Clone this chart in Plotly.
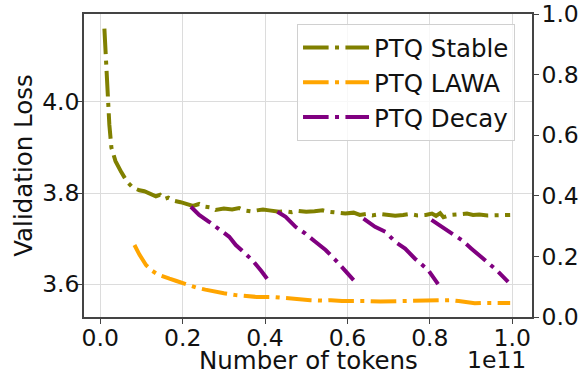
import plotly.graph_objects as go

# ---- data (x in units of 1e11 tokens) ----
stable_x = [0.010, 0.013, 0.017, 0.022, 0.027, 0.037, 0.051, 0.065, 0.079, 0.095,
            0.107, 0.120, 0.135, 0.145, 0.155, 0.165, 0.180, 0.195, 0.210, 0.225,
            0.240, 0.255, 0.270, 0.280, 0.300, 0.320, 0.337, 0.350, 0.365, 0.377,
            0.395, 0.410, 0.434, 0.450, 0.465, 0.480, 0.500, 0.520, 0.540, 0.555,
            0.575, 0.595, 0.615, 0.630, 0.645, 0.660, 0.680, 0.700, 0.716, 0.735,
            0.750, 0.770, 0.790, 0.805, 0.815, 0.825, 0.833, 0.850, 0.870, 0.890,
            0.905, 0.920, 0.940, 0.960, 0.980, 0.995]
stable_y = [4.161, 4.105, 4.000, 3.950, 3.900, 3.870, 3.846, 3.825, 3.812, 3.806,
            3.804, 3.799, 3.793, 3.796, 3.787, 3.790, 3.783, 3.780, 3.777, 3.772,
            3.776, 3.770, 3.768, 3.763, 3.766, 3.764, 3.767, 3.762, 3.760, 3.761,
            3.764, 3.762, 3.759, 3.760, 3.758, 3.761, 3.759, 3.760, 3.762, 3.759,
            3.758, 3.755, 3.757, 3.752, 3.754, 3.751, 3.754, 3.752, 3.750, 3.752,
            3.754, 3.751, 3.752, 3.755, 3.750, 3.756, 3.747, 3.752, 3.753, 3.755,
            3.752, 3.753, 3.751, 3.752, 3.751, 3.752]

lawa_x = [0.083, 0.095, 0.111, 0.125, 0.140, 0.155, 0.168, 0.185, 0.200, 0.216,
          0.235, 0.255, 0.280, 0.300, 0.329, 0.350, 0.380, 0.417, 0.440, 0.460,
          0.482, 0.510, 0.540, 0.560, 0.587, 0.620, 0.650, 0.680, 0.716, 0.740,
          0.770, 0.800, 0.820, 0.850, 0.870, 0.890, 0.909, 0.930, 0.950, 0.970, 0.995]
lawa_y = [3.686, 3.665, 3.642, 3.630, 3.621, 3.615, 3.612, 3.607, 3.602, 3.598,
          3.592, 3.588, 3.583, 3.580, 3.576, 3.574, 3.572, 3.572, 3.570, 3.568,
          3.566, 3.565, 3.564, 3.565, 3.563, 3.564, 3.563, 3.562, 3.563, 3.563,
          3.564, 3.565, 3.566, 3.565, 3.563, 3.560, 3.558, 3.559, 3.560, 3.559, 3.559]

decay1_x = [0.220, 0.240, 0.264, 0.290, 0.313, 0.329, 0.353, 0.369, 0.390, 0.405]
decay1_y = [3.770, 3.752, 3.737, 3.720, 3.704, 3.686, 3.667, 3.653, 3.630, 3.612]
decay2_x = [0.430, 0.450, 0.474, 0.498, 0.522, 0.547, 0.571, 0.579, 0.598, 0.615]
decay2_y = [3.759, 3.748, 3.726, 3.711, 3.693, 3.675, 3.653, 3.645, 3.627, 3.609]
decay3_x = [0.639, 0.667, 0.692, 0.716, 0.740, 0.764, 0.796, 0.820]
decay3_y = [3.744, 3.726, 3.715, 3.693, 3.678, 3.656, 3.631, 3.600]
decay4_x = [0.804, 0.829, 0.853, 0.877, 0.901, 0.933, 0.962, 0.990]
decay4_y = [3.741, 3.726, 3.711, 3.697, 3.678, 3.653, 3.631, 3.605]

x_ticks = [0.0, 0.2, 0.4, 0.6, 0.8, 1.0]
x_tick_labels = ["0.0", "0.2", "0.4", "0.6", "0.8", "1.0"]
y_ticks = [3.6, 3.8, 4.0]
y_tick_labels = ["3.6", "3.8", "4.0"]
y2_ticks = [0.0, 0.2, 0.4, 0.6, 0.8, 1.0]
y2_tick_labels = ["0.0", "0.2", "0.4", "0.6", "0.8", "1.0"]
x_title = "Number of tokens"
y_title = "Validation Loss"
x_offset_label = "1e11"

OLIVE = "#808000"
ORANGE = "#FFA500"
PURPLE = "#800080"
DASH = "25.6px,6.4px,4px,6.4px"
FONT = "DejaVu Sans"
FS = 24.5
TFS = 23.5

fig = go.Figure()
fig.add_trace(go.Scatter(x=stable_x, y=stable_y, mode="lines", name="PTQ Stable",
                         line=dict(color=OLIVE, width=4, dash=DASH)))
fig.add_trace(go.Scatter(x=lawa_x, y=lawa_y, mode="lines", name="PTQ LAWA",
                         line=dict(color=ORANGE, width=4, dash=DASH)))
for i, (dx, dy) in enumerate([(decay1_x, decay1_y), (decay2_x, decay2_y),
                              (decay3_x, decay3_y), (decay4_x, decay4_y)]):
    fig.add_trace(go.Scatter(x=dx, y=dy, mode="lines", name="PTQ Decay",
                             legendgroup="decay", showlegend=(i == 0),
                             line=dict(color=PURPLE, width=4, dash=DASH)))
# invisible trace for right axis
fig.add_trace(go.Scatter(x=[None], y=[None], yaxis="y2", showlegend=False, hoverinfo="skip"))

axis_common = dict(showline=True, linecolor="#444", linewidth=1.5, ticks="outside",
                   ticklen=5, tickwidth=1.3, tickcolor="#444", automargin=False,
                   tickfont=dict(family=FONT, size=TFS, color="#111"), zeroline=False)

fig.update_layout(
    width=581, height=372,
    margin=dict(l=84, r=49, t=14, b=55),
    paper_bgcolor="white", plot_bgcolor="white",
    font=dict(family=FONT, size=FS, color="#111"),
    xaxis=dict(range=[-0.0395, 1.048], tickvals=x_ticks, ticktext=x_tick_labels,
               showgrid=True, gridcolor="#dcdcdc", gridwidth=1, mirror=True,
               ticklabelstandoff=-6, **axis_common),
    yaxis=dict(range=[3.528, 4.193], tickvals=y_ticks, ticktext=y_tick_labels,
               showgrid=True, gridcolor="#dcdcdc", gridwidth=1, ticklabelstandoff=-7,
               title=dict(text=y_title, font=dict(family=FONT, size=FS), standoff=3),
               **axis_common),
    yaxis2=dict(range=[0, 1], overlaying="y", side="right", tickvals=y2_ticks,
                ticktext=y2_tick_labels, showgrid=False, ticklabelstandoff=-2, **axis_common),
    legend=dict(x=0.4755, y=0.967, xanchor="left", yanchor="top", traceorder="normal",
                tracegroupgap=0, itemwidth=66,
                bgcolor="rgba(255,255,255,0.8)", bordercolor="#d0d0d0", borderwidth=1,
                font=dict(family=FONT, size=FS, color="#111")),
    annotations=[
        dict(text=x_title, xref="paper", yref="paper", x=0.5, y=0,
             xanchor="center", yanchor="middle", yshift=-43, showarrow=False,
             font=dict(family=FONT, size=FS, color="#111")),
        dict(text=x_offset_label, xref="paper", yref="paper", x=0.991, y=0,
             xanchor="right", yanchor="middle", yshift=-43, showarrow=False,
             font=dict(family=FONT, size=TFS, color="#111")),
    ],
)

fig.write_html("out.html")
